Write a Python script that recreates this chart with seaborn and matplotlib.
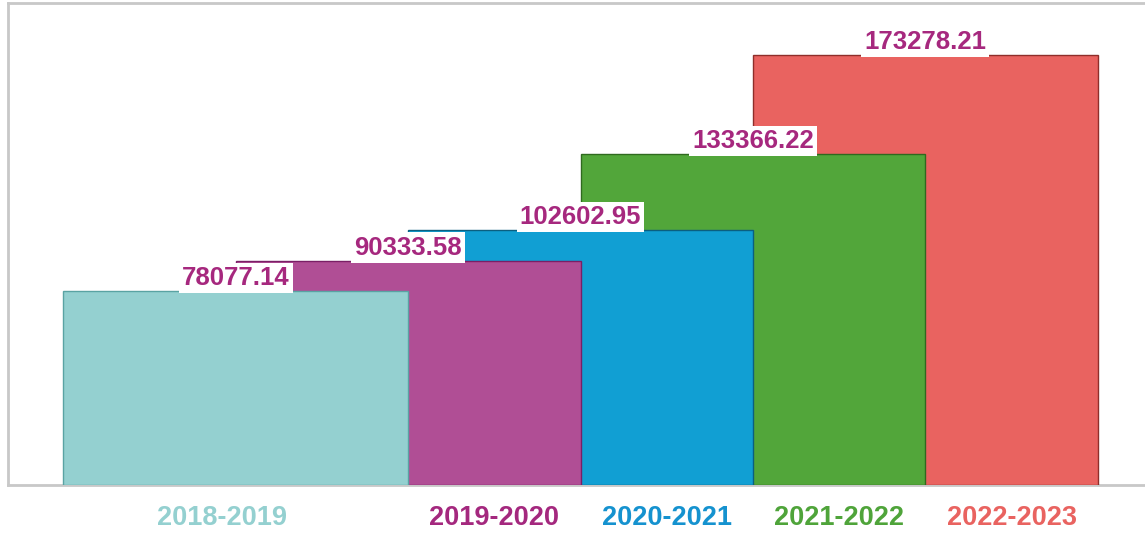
"""Yearly totals as overlapping bars."""

import matplotlib
matplotlib.use('Agg')
import matplotlib.pyplot as plt
import pandas as pd
import seaborn as sns

years = ['2018-2019', '2019-2020', '2020-2021', '2021-2022', '2022-2023']
totals = [78077.14, 90333.58, 102602.95, 133366.22, 173278.21]
bar_colors = ['#94d0d0', '#b04e95', '#119fd3', '#52a63a', '#e96360']
label_colors = ['#94d0d0', '#a4287e', '#1592cf', '#4fa43a', '#e96360']
edge_colors = ['#5aa3a3', '#7a1f66', '#0b5f80', '#2f6a1f', '#8f2e2a']
value_color = '#a6287e'


def main():
    sns.set_style('white')
    plt.rcParams['font.family'] = ['Liberation Sans', 'DejaVu Sans']

    df = pd.DataFrame({'year': years, 'total': totals})

    fig = plt.figure(figsize=(11.45, 5.42), dpi=100)
    ax = fig.add_axes([0.007, 0.105, 1.0, 0.889])

    sns.barplot(data=df, x='year', y='total', hue='year', palette=bar_colors,
                width=2.0, legend=False, ax=ax, saturation=1)

    # earlier years sit in front of the later ones
    for i, patch in enumerate(ax.patches):
        patch.set_zorder(10 - i)
        patch.set_edgecolor(edge_colors[i])
        patch.set_linewidth(1.0)

    for i, v in enumerate(totals):
        ax.annotate(f'{v:.2f}', xy=(i, v), xytext=(0, 9.5), textcoords='offset points',
                    ha='center', va='center', fontsize=18.5, fontweight='bold',
                    color=value_color, zorder=20,
                    bbox=dict(boxstyle='square,pad=0.12', fc='white', ec='none'))

    ax.set_xlim(-1.32, 5.32)
    ax.set_ylim(0, 194000)

    tick_pos = [-0.08] + [i + 0.5 for i in range(1, len(years))]
    ax.set_xticks(tick_pos)
    ax.set_xticklabels(years, fontsize=19.5, fontweight='bold')
    for lbl, c in zip(ax.get_xticklabels(), label_colors):
        lbl.set_color(c)
    ax.tick_params(axis='x', length=0, pad=14)
    ax.set_yticks([])
    ax.set_xlabel('')
    ax.set_ylabel('')

    for side in ['left', 'top', 'bottom', 'right']:
        ax.spines[side].set_color('#c8c8c8')
        ax.spines[side].set_linewidth(2)

    fig.savefig('out.png', dpi=100)


if __name__ == '__main__':
    main()
